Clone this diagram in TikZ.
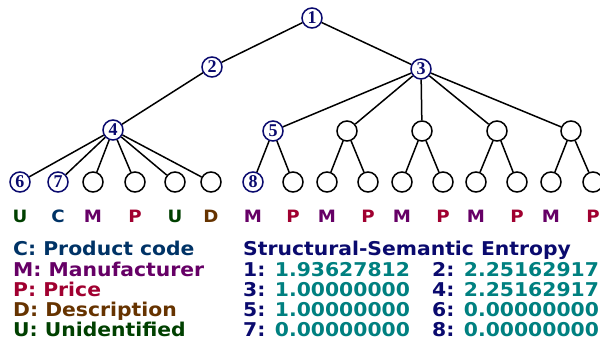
\documentclass[tikz,border=0pt]{standalone}
\usepackage{fontspec}
\setsansfont{DejaVu Sans}[FakeStretch=1.07]
\newfontfamily\numfont{Liberation Serif}
\definecolor{navyc}{RGB}{10,10,110}
\definecolor{tealc}{RGB}{0,128,128}
\definecolor{ccode}{RGB}{0,51,102}
\definecolor{cmanu}{RGB}{102,0,102}
\definecolor{cprice}{RGB}{160,0,48}
\definecolor{cdesc}{RGB}{102,51,0}
\definecolor{cunid}{RGB}{0,64,0}

\begin{document}
\begin{tikzpicture}[x=1pt, y=-1pt,
  tnode/.style={circle, draw, line width=1.5pt, minimum size=20pt, inner sep=0pt},
  knode/.style={tnode, draw=navyc, text=navyc, font=\numfont\bfseries\fontsize{18}{18}\selectfont},
  edge/.style={line width=1.5pt},
  tag/.style={font=\sffamily\bfseries\fontsize{17}{17}\selectfont, inner sep=0pt, anchor=base},
  legend/.style={font=\sffamily\bfseries\fontsize{19}{20}\selectfont, inner sep=0pt, anchor=base west}]

    \useasboundingbox (0,0) rectangle (600,344);

    % tree
    \node[knode] (n1) at (312,18) {1};
    \node[knode] (n2) at (212,67) {2};
    \node[knode] (n3) at (421,69) {3};
    \node[knode] (n4) at (113,130) {4};
    \node[knode] (n5) at (273,131) {5};
    \node[tnode] (a) at (347,131) {};
    \node[tnode] (b) at (422,131) {};
    \node[tnode] (c) at (497,131) {};
    \node[tnode] (d) at (571,131) {};

    \node[knode] (n6) at (20,182) {6};
    \node[knode] (n7) at (58,182) {7};
    \node[tnode] (l3) at (93,182) {};
    \node[tnode] (l4) at (135,182) {};
    \node[tnode] (l5) at (175,182) {};
    \node[tnode] (l6) at (211,182) {};
    \node[knode] (n8) at (253,182) {8};
    \node[tnode] (l8) at (293,182) {};
    \node[tnode] (a1) at (327,182) {};
    \node[tnode] (a2) at (368,182) {};
    \node[tnode] (b1) at (402,182) {};
    \node[tnode] (b2) at (443,182) {};
    \node[tnode] (c1) at (476,182) {};
    \node[tnode] (c2) at (517,182) {};
    \node[tnode] (d1) at (551,182) {};
    \node[tnode] (d2) at (593,182) {};

    \draw[edge] (n1) -- (n2);
    \draw[edge] (n1) -- (n3);
    \draw[edge] (n2) -- (n4);
    \draw[edge] (n3) -- (n5);
    \draw[edge] (n3) -- (a);
    \draw[edge] (n3) -- (b);
    \draw[edge] (n3) -- (c);
    \draw[edge] (n3) -- (d);
    \draw[edge] (n4) -- (n6);
    \draw[edge] (n4) -- (n7);
    \draw[edge] (n4) -- (l3);
    \draw[edge] (n4) -- (l4);
    \draw[edge] (n4) -- (l5);
    \draw[edge] (n4) -- (l6);
    \draw[edge] (n5) -- (n8);
    \draw[edge] (n5) -- (l8);
    \draw[edge] (a) -- (a1);
    \draw[edge] (a) -- (a2);
    \draw[edge] (b) -- (b1);
    \draw[edge] (b) -- (b2);
    \draw[edge] (c) -- (c1);
    \draw[edge] (c) -- (c2);
    \draw[edge] (d) -- (d1);
    \draw[edge] (d) -- (d2);

    % leaf tags
    \node[tag, text=cunid] (t6) at (20,223) {U};
    \node[tag, text=ccode] (t7) at (58,223) {C};
    \node[tag, text=cmanu] (t3) at (93,223) {M};
    \node[tag, text=cprice] (t4) at (135,223) {P};
    \node[tag, text=cunid] (t5) at (175,223) {U};
    \node[tag, text=cdesc] (t6b) at (211,223) {D};
    \node[tag, text=cmanu] (t8) at (253,223) {M};
    \node[tag, text=cprice] (t8b) at (293,223) {P};
    \node[tag, text=cmanu] (ta1) at (327,223) {M};
    \node[tag, text=cprice] (ta2) at (368,223) {P};
    \node[tag, text=cmanu] (tb1) at (402,223) {M};
    \node[tag, text=cprice] (tb2) at (443,223) {P};
    \node[tag, text=cmanu] (tc1) at (476,223) {M};
    \node[tag, text=cprice] (tc2) at (517,223) {P};
    \node[tag, text=cmanu] (td1) at (551,223) {M};
    \node[tag, text=cprice] (td2) at (593,223) {P};

    % legend
    \node[legend, text=ccode] (lgc) at (13,256) {C: Product code};
    \node[legend, text=cmanu] (lgm) at (13,277) {M: Manufacturer};
    \node[legend, text=cprice] (lgp) at (13,297) {P: Price};
    \node[legend, text=cdesc] (lgd) at (13,317) {D: Description};
    \node[legend, text=cunid] (lgu) at (13,337) {U: Unidentified};

    % entropy values
    \node[legend, text=navyc] (ent) at (243,256) {Structural-Semantic Entropy};
    \node[legend, text=tealc] (e1) at (243,277) {\textcolor{navyc}{1:} 1.93627812};
    \node[legend, text=tealc] (e2) at (432,277) {\textcolor{navyc}{2:} 2.25162917};
    \node[legend, text=tealc] (e3) at (243,297) {\textcolor{navyc}{3:} 1.00000000};
    \node[legend, text=tealc] (e4) at (432,297) {\textcolor{navyc}{4:} 2.25162917};
    \node[legend, text=tealc] (e5) at (243,317) {\textcolor{navyc}{5:} 1.00000000};
    \node[legend, text=tealc] (e6) at (432,317) {\textcolor{navyc}{6:} 0.00000000};
    \node[legend, text=tealc] (e7) at (243,337) {\textcolor{navyc}{7:} 0.00000000};
    \node[legend, text=tealc] (e8) at (432,337) {\textcolor{navyc}{8:} 0.00000000};

\end{tikzpicture}
\end{document}
